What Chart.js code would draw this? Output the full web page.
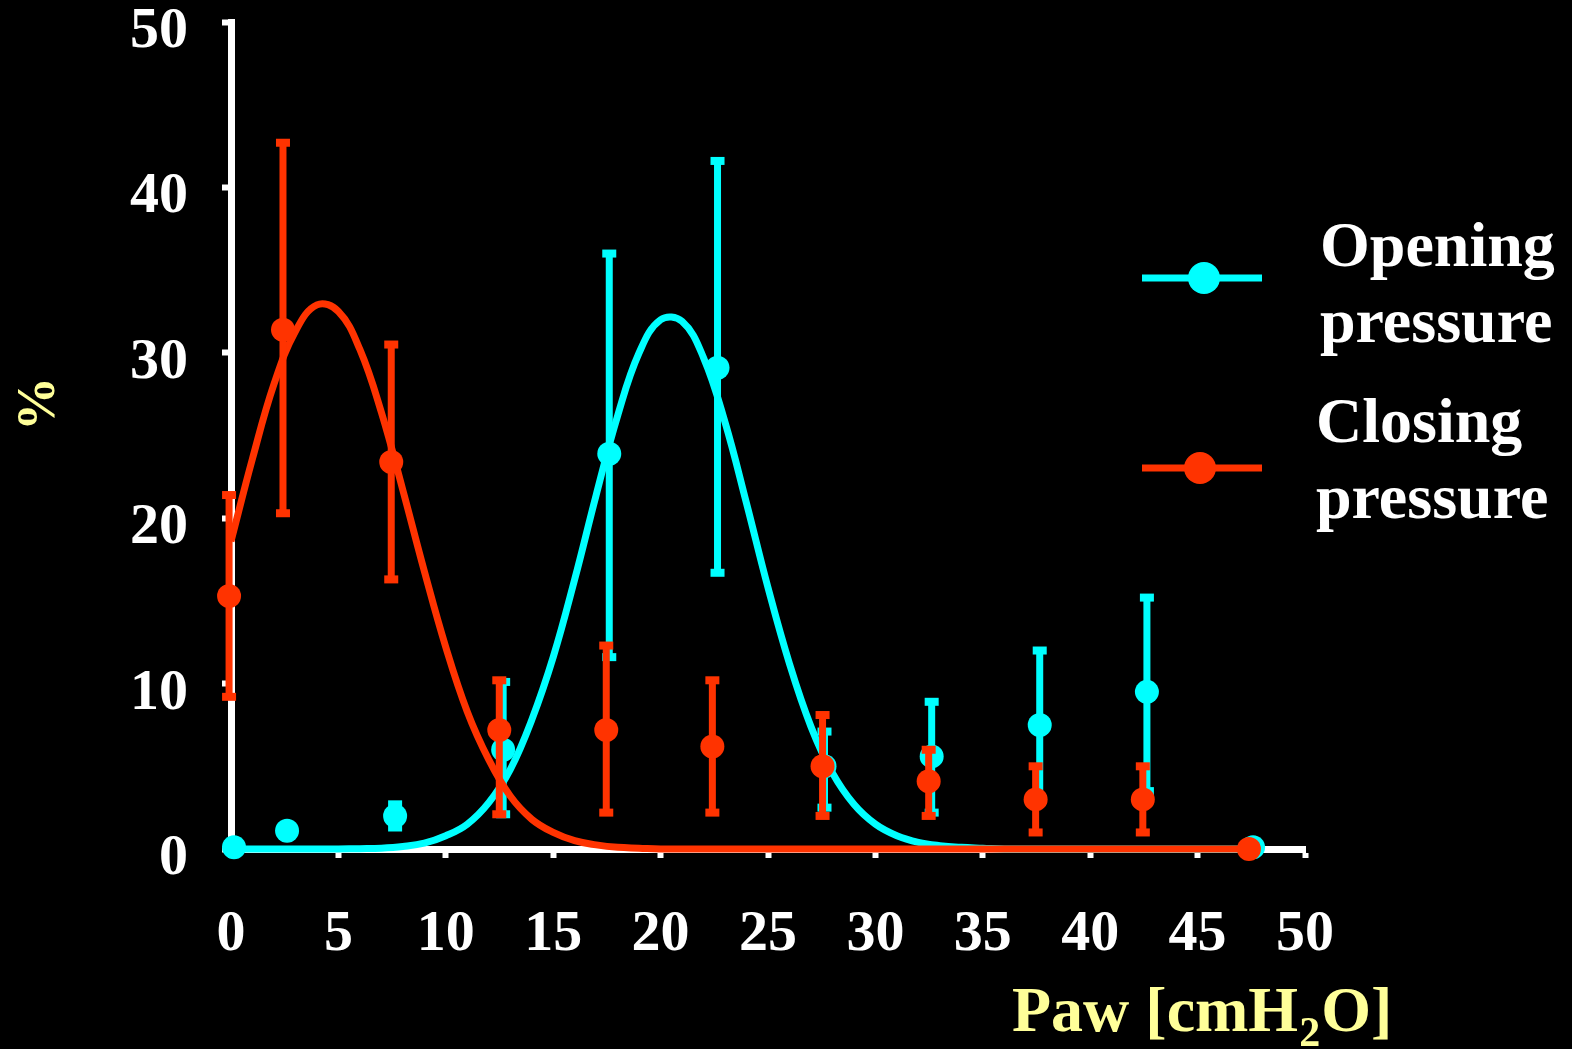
<!DOCTYPE html>
<html>
<head>
<meta charset="utf-8">
<script src="https://cdn.jsdelivr.net/npm/chart.js@4.4.1/dist/chart.umd.min.js"></script>
<style>
  html, body { margin: 0; padding: 0; background: #000; }
  canvas { display: block; }
</style>
</head>
<body>
<canvas id="chart" width="1572" height="1049"></canvas>
<script>
// Axis ticks
const xTickValues = [0, 5, 10, 15, 20, 25, 30, 35, 40, 45, 50];
const yTickValues = [0, 10, 20, 30, 40, 50];

// Measured distributions (mean with SD bars), Paw in cmH2O, values in %
const openingX    = [0.14, 2.61, 7.64, 12.67, 17.61, 22.65, 27.63, 32.62, 37.65, 42.64, 47.58];
const openingMean = [0.1, 1.1, 2.0, 6.0, 23.9, 29.1, 5.0, 5.6, 7.5, 9.5, 0.1];
const openingHigh = [null, null, 2.7, 10.1, 36.0, 41.6, 7.1, 8.9, 12.0, 15.2, null];
const openingLow  = [null, null, 1.3, 2.1, 11.6, 16.7, 2.5, 2.2, 3.0, 3.5, null];

const closingX    = [-0.09, 2.42, 7.46, 12.49, 17.47, 22.41, 27.54, 32.48, 37.46, 42.45, 47.39];
const closingMean = [15.3, 31.4, 23.4, 7.2, 7.2, 6.2, 5.0, 4.1, 3.0, 3.0, 0.0];
const closingHigh = [21.4, 42.7, 30.5, 10.2, 12.3, 10.2, 8.1, 6.0, 5.0, 5.0, null];
const closingLow  = [9.2, 20.3, 16.3, 2.1, 2.2, 2.2, 2.0, 2.0, 1.0, 1.0, null];

// Fitted distribution curves
const curveX = [0, 1, 2, 3, 4, 5, 6, 7, 8, 9, 10, 11, 12, 13, 14, 15, 16, 17, 18, 19,
                20, 21, 22, 23, 24, 25, 26, 27, 28, 29, 30, 31, 32, 33, 34, 35, 36, 37, 38, 39,
                40, 41, 42, 43, 44, 45, 46, 47, 47.5];
const openingFit = [0, 0, 0, 0, 0, 0, 0.02, 0.05, 0.15, 0.35, 0.8, 1.5, 2.8, 4.8, 7.8, 11.6, 16.3, 21.4, 26.2, 30.0,
                    32.0, 31.9, 29.7, 25.8, 20.9, 15.8, 11.2, 7.4, 4.6, 2.7, 1.5, 0.8, 0.4, 0.2, 0.1, 0.05, 0, 0, 0, 0,
                    0, 0, 0, 0, 0, 0, 0, 0, 0];
const closingFit = [18.6, 23.6, 28.1, 31.3, 32.9, 32.5, 30.2, 26.4, 21.7, 16.8, 12.2, 8.3, 5.4, 3.2, 1.8, 1.0, 0.5, 0.25, 0.1, 0.05,
                    0, 0, 0, 0, 0, 0, 0, 0, 0, 0, 0, 0, 0, 0, 0, 0, 0, 0, 0, 0,
                    0, 0, 0, 0, 0, 0, 0, 0, 0];

const seriesNames = [['Opening', 'pressure'], ['Closing', 'pressure']];
const xTitleParts = ['Paw [cmH', '2', 'O]'];
const yTitle = '%';

const CYAN = '#00ffff';
const RED = '#ff3300';
const WHITE = '#ffffff';
const YELLOW = '#ffff99';
const SERIF = '"Liberation Serif", "DejaVu Serif", serif';

const pts = (xs, ys) => xs.map((x, i) => ({ x, y: ys[i] }));

// Vertical SD bars with square caps, drawn just beneath each marker set
const errorBars = {
  id: 'errorBars',
  beforeDatasetDraw(chart, args) {
    const ds = chart.data.datasets[args.index];
    if (!ds.errHigh) return;
    const xs = chart.scales.x, ys = chart.scales.y, ctx = chart.ctx;
    ctx.save();
    ctx.strokeStyle = ds.backgroundColor;
    ctx.fillStyle = ds.backgroundColor;
    ctx.lineWidth = 7;
    ds.data.forEach((p, i) => {
      const hi = ds.errHigh[i], lo = ds.errLow[i];
      if (hi == null || lo == null) return;
      const px = xs.getPixelForValue(p.x);
      const yh = ys.getPixelForValue(hi), yl = ys.getPixelForValue(lo);
      ctx.beginPath();
      ctx.moveTo(px, yh);
      ctx.lineTo(px, yl);
      ctx.stroke();
      ctx.fillRect(px - 7, yh - 4, 14, 8);
      ctx.fillRect(px - 7, yl - 4, 14, 8);
    });
    ctx.restore();
  }
};

const background = {
  id: 'background',
  beforeDraw(chart) {
    const ctx = chart.ctx;
    ctx.save();
    ctx.fillStyle = '#000';
    ctx.fillRect(0, 0, chart.width, chart.height);
    ctx.restore();
  }
};

// Axis titles and the two-line legend at the right
const annotations = {
  id: 'annotations',
  afterDraw(chart) {
    const ctx = chart.ctx;
    ctx.save();

    // x title with subscript
    ctx.fillStyle = YELLOW;
    ctx.textBaseline = 'alphabetic';
    ctx.textAlign = 'left';
    let x = 1012;
    ctx.font = 'bold 64px ' + SERIF;
    ctx.fillText(xTitleParts[0], x, 1031);
    x += ctx.measureText(xTitleParts[0]).width;
    ctx.font = 'bold 42px ' + SERIF;
    ctx.fillText(xTitleParts[1], x + 1, 1046);
    x += ctx.measureText(xTitleParts[1]).width + 2;
    ctx.font = 'bold 64px ' + SERIF;
    ctx.fillText(xTitleParts[2], x, 1031);

    // y title, rotated
    ctx.save();
    ctx.translate(40, 404);
    ctx.rotate(-Math.PI / 2);
    ctx.textAlign = 'center';
    ctx.textBaseline = 'middle';
    ctx.font = 'bold 54px ' + SERIF;
    ctx.fillText(yTitle, 0, 0);
    ctx.restore();

    // legend
    const items = [
      { color: CYAN, lineY: 278, dotX: 1204, textX: 1320, base: [266, 342], lines: seriesNames[0] },
      { color: RED,  lineY: 468, dotX: 1200, textX: 1316, base: [442, 518], lines: seriesNames[1] }
    ];
    items.forEach(it => {
      ctx.strokeStyle = it.color;
      ctx.fillStyle = it.color;
      ctx.lineWidth = 7;
      ctx.beginPath();
      ctx.moveTo(1142, it.lineY);
      ctx.lineTo(1262, it.lineY);
      ctx.stroke();
      ctx.beginPath();
      ctx.arc(it.dotX, it.lineY, 16, 0, Math.PI * 2);
      ctx.fill();
      ctx.fillStyle = WHITE;
      ctx.font = 'bold 64px ' + SERIF;
      ctx.textAlign = 'left';
      ctx.textBaseline = 'alphabetic';
      ctx.fillText(it.lines[0], it.textX, it.base[0]);
      ctx.fillText(it.lines[1], it.textX, it.base[1]);
    });
    ctx.restore();
  }
};

const tickFont = { family: SERIF, size: 58, weight: 'bold' };

new Chart(document.getElementById('chart'), {
  type: 'scatter',
  data: {
    datasets: [
      {
        label: 'Opening pressure fit',
        type: 'line',
        data: pts(curveX, openingFit),
        borderColor: CYAN,
        borderWidth: 7,
        pointRadius: 0,
        showLine: true,
        tension: 0.4,
        fill: false,
        clip: false,
        order: 4
      },
      {
        label: 'Opening pressure',
        data: pts(openingX, openingMean),
        errHigh: openingHigh,
        errLow: openingLow,
        backgroundColor: CYAN,
        borderColor: CYAN,
        borderWidth: 0,
        pointRadius: 12,
        showLine: false,
        clip: false,
        order: 3
      },
      {
        label: 'Closing pressure fit',
        type: 'line',
        data: pts(curveX, closingFit),
        borderColor: RED,
        borderWidth: 7,
        pointRadius: 0,
        showLine: true,
        tension: 0.4,
        fill: false,
        clip: false,
        order: 2
      },
      {
        label: 'Closing pressure',
        data: pts(closingX, closingMean),
        errHigh: closingHigh,
        errLow: closingLow,
        backgroundColor: RED,
        borderColor: RED,
        borderWidth: 0,
        pointRadius: 12,
        showLine: false,
        clip: false,
        order: 1
      }
    ]
  },
  options: {
    responsive: false,
    animation: false,
    devicePixelRatio: 1,
    events: [],
    layout: { padding: { top: 22, right: 267, left: 0, bottom: 0 } },
    plugins: {
      legend: { display: false },
      tooltip: { enabled: false }
    },
    scales: {
      x: {
        type: 'linear',
        position: 'bottom',
        min: 0,
        max: 50,
        afterBuildTicks: s => { s.ticks = xTickValues.map(v => ({ value: v })); },
        afterFit: s => { s.height = 200; s.paddingLeft = 0; s.paddingRight = 0; },
        border: { display: true, color: WHITE, width: 7 },
        grid: { drawOnChartArea: false, drawTicks: true, tickLength: 9, tickWidth: 6, tickColor: WHITE },
        ticks: { color: WHITE, font: tickFont, padding: 42, maxRotation: 0, autoSkip: false }
      },
      y: {
        type: 'linear',
        position: 'left',
        min: 0,
        max: 50,
        afterBuildTicks: s => { s.ticks = yTickValues.map(v => ({ value: v })); },
        afterFit: s => { s.width = 231; s.paddingTop = 0; s.paddingBottom = 0; },
        border: { display: true, color: WHITE, width: 7 },
        grid: { drawOnChartArea: false, drawTicks: true, tickLength: 9, tickWidth: 6, tickColor: WHITE },
        ticks: { color: WHITE, font: tickFont, padding: 34, labelOffset: 10, autoSkip: false }
      }
    }
  },
  plugins: [background, errorBars, annotations]
});
</script>
</body>
</html>
